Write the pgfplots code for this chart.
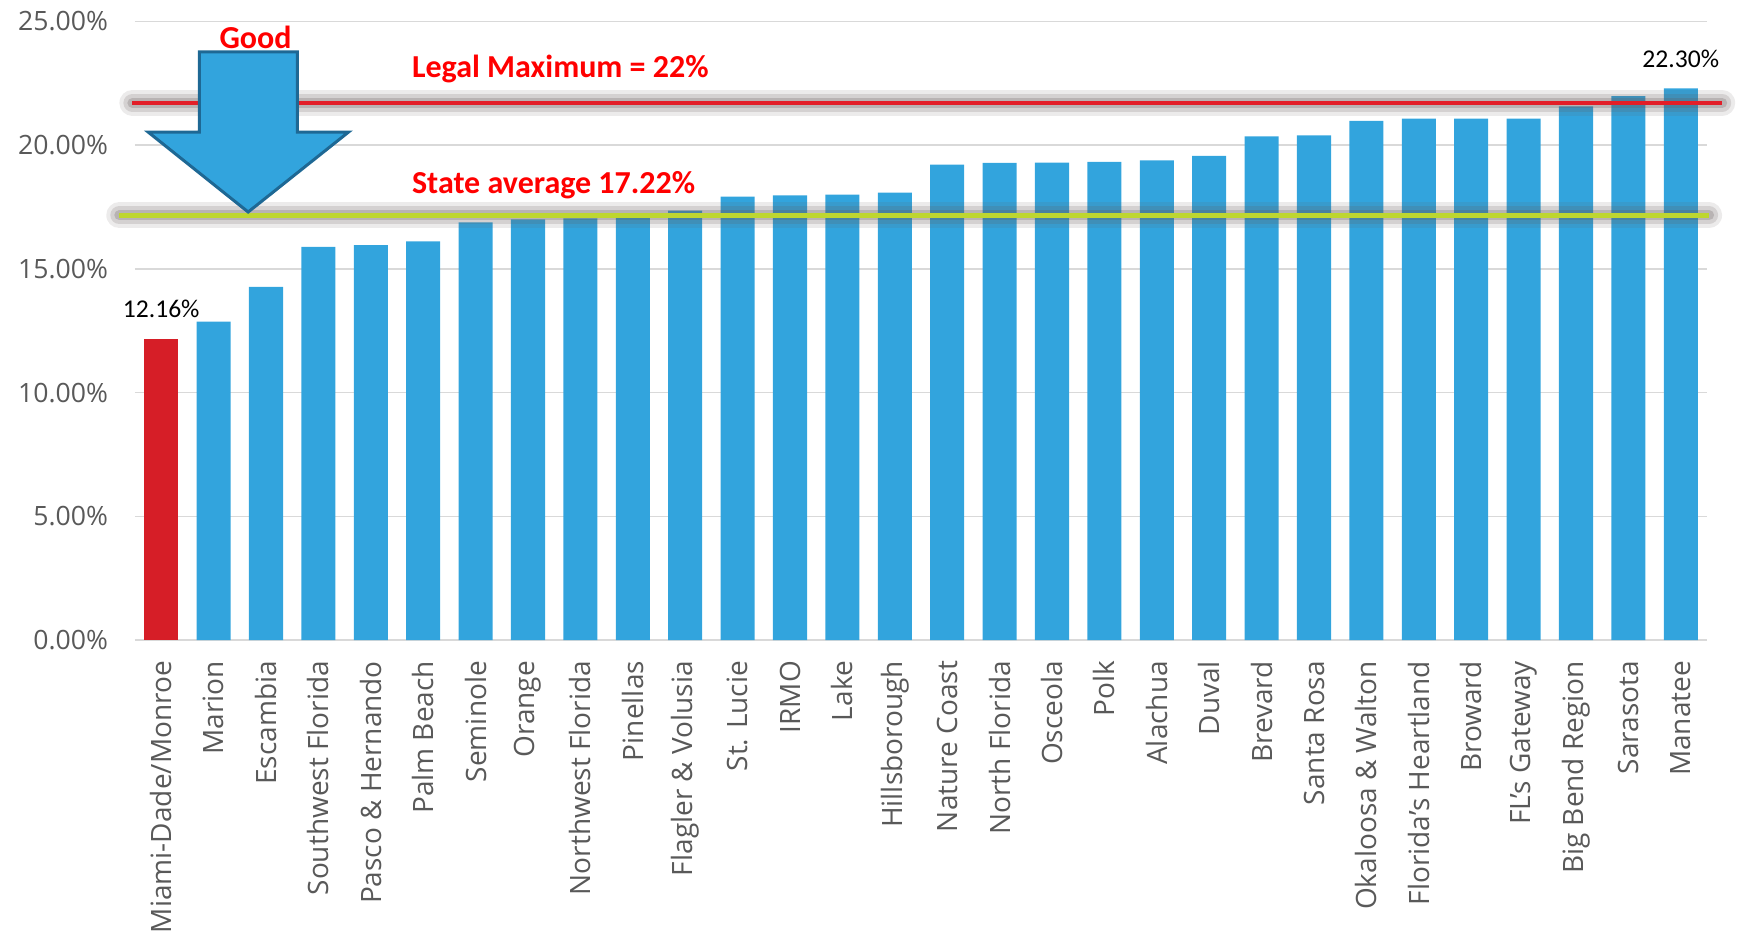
\documentclass[border=0pt]{standalone}
\usepackage{pgfplots}
\pgfplotsset{compat=1.18}
\usepackage{fontspec}
\setmainfont{Open Sans}
\newfontfamily\carlito{Carlito}

\definecolor{barblue}{RGB}{50,164,221}
\definecolor{barred}{RGB}{214,30,39}
\definecolor{linered}{RGB}{226,30,40}
\definecolor{linegreen}{RGB}{190,214,48}
\definecolor{arrowedge}{RGB}{30,104,148}
\definecolor{ticktext}{RGB}{89,89,89}
\definecolor{gridgray}{RGB}{217,217,217}
\definecolor{glow}{RGB}{100,90,90}

\begin{document}
\begin{tikzpicture}
\begin{axis}[
    name=ax,
    scale only axis,
    width=786pt, height=309.25pt,
    xmin=-0.5, xmax=29.5,
    ymin=0, ymax=25,
    ytick={0,5,...,25},
    xtick={0,...,29},
    xticklabels={Miami-Dade/Monroe, Marion, Escambia, Southwest Florida, Pasco \& Hernando, Palm Beach, Seminole, Orange, Northwest Florida, Pinellas, Flagler \& Volusia, St. Lucie, IRMO, Lake, Hillsborough, Nature Coast, North Florida, Osceola, Polk, Alachua, Duval, Brevard, Santa Rosa, Okaloosa \& Walton, Florida's Heartland, Broward, FL's Gateway, Big Bend Region, Sarasota, Manatee},
    xticklabel style={rotate=90, anchor=east, font=\fontsize{14}{16}\selectfont, text=ticktext, xshift=-7pt},
    yticklabel={\pgfmathprintnumber[fixed,fixed zerofill,precision=2]{\tick}\%},
    yticklabel style={font=\fontsize{13.3}{15}\selectfont, text=ticktext, xshift=-10pt},
    /pgf/number format/assume math mode=true,
    axis line style={draw=none},
    major tick length=0pt,
    ymajorgrids, grid style={gridgray, line width=0.8pt},
    ybar, bar width=0.65, bar shift=0pt,
    clip=false,
]
% Miami-Dade/Monroe (lowest, highlighted)
\addplot[fill=barred, draw=none] coordinates {(0,12.16)};
% the other circuits
\addplot[fill=barblue, draw=none] coordinates {
    (1,12.87) (2,14.27) (3,15.89) (4,15.96) (5,16.11) (6,16.88) (7,17.00)
    (8,17.04) (9,17.08) (10,17.36) (11,17.92) (12,17.97) (13,18.00) (14,18.08)
    (15,19.21) (16,19.29) (17,19.30) (18,19.33) (19,19.39) (20,19.57) (21,20.36)
    (22,20.40) (23,20.98) (24,21.07) (25,21.07) (26,21.07) (27,21.57) (28,21.98)
    (29,22.30)};

% data labels on the two ends
\addplot[draw=none, fill=none, nodes near coords={\pgfmathprintnumber[fixed,fixed zerofill,precision=2]{\pgfplotspointmeta}\%},
    every node near coord/.style={font=\carlito\fontsize{12.8}{14}\selectfont, text=black, anchor=south, yshift=7pt}]
    coordinates {(0,12.16) (29,22.30)};

% glow + reference lines
\pgfplotsset{every axis plot/.append style={ybar=false}}
\addplot[sharp plot, glow, opacity=0.12, line width=13pt, line cap=round] coordinates {(-0.55,21.71) (29.79,21.71)};
\addplot[sharp plot, glow, opacity=0.18, line width=9pt, line cap=round] coordinates {(-0.55,21.71) (29.79,21.71)};
\addplot[sharp plot, glow, opacity=0.25, line width=5pt, line cap=round] coordinates {(-0.55,21.71) (29.79,21.71)};
\addplot[sharp plot, linered, line width=2pt] coordinates {(-0.55,21.71) (29.79,21.71)};

\addplot[sharp plot, glow, opacity=0.12, line width=13pt, line cap=round] coordinates {(-0.80,17.17) (29.54,17.17)};
\addplot[sharp plot, glow, opacity=0.18, line width=9pt, line cap=round] coordinates {(-0.80,17.17) (29.54,17.17)};
\addplot[sharp plot, glow, opacity=0.25, line width=5pt, line cap=round] coordinates {(-0.80,17.17) (29.54,17.17)};
\addplot[sharp plot, linegreen, line width=2.3pt] coordinates {(-0.80,17.17) (29.54,17.17)};

% "Good" arrow
\draw[fill=barblue, draw=arrowedge, line width=1.5pt, line join=miter]
    (axis cs:0.727,23.77) -- (axis cs:2.60,23.77) -- (axis cs:2.60,20.53)
    -- (axis cs:3.575,20.53) -- (axis cs:1.66,17.30) -- (axis cs:-0.249,20.53)
    -- (axis cs:0.727,20.53) -- cycle;

\node[font=\carlito\bfseries\fontsize{16}{18}\selectfont, text=red] at (axis cs:1.80,24.37) {Good};
\node[font=\carlito\bfseries\fontsize{16}{18}\selectfont, text=red, anchor=west, inner sep=0pt] at (axis cs:4.78,23.08) {Legal Maximum = 22\%};
\node[font=\carlito\bfseries\fontsize{16}{18}\selectfont, text=red, anchor=west, inner sep=0pt] at (axis cs:4.78,18.40) {State average 17.22\%};
\end{axis}
\pgfresetboundingbox
\path[use as bounding box] (ax.south west) ++(-67.5pt,-146.5pt) rectangle ++(869pt,466.5pt);
\end{tikzpicture}
\end{document}
